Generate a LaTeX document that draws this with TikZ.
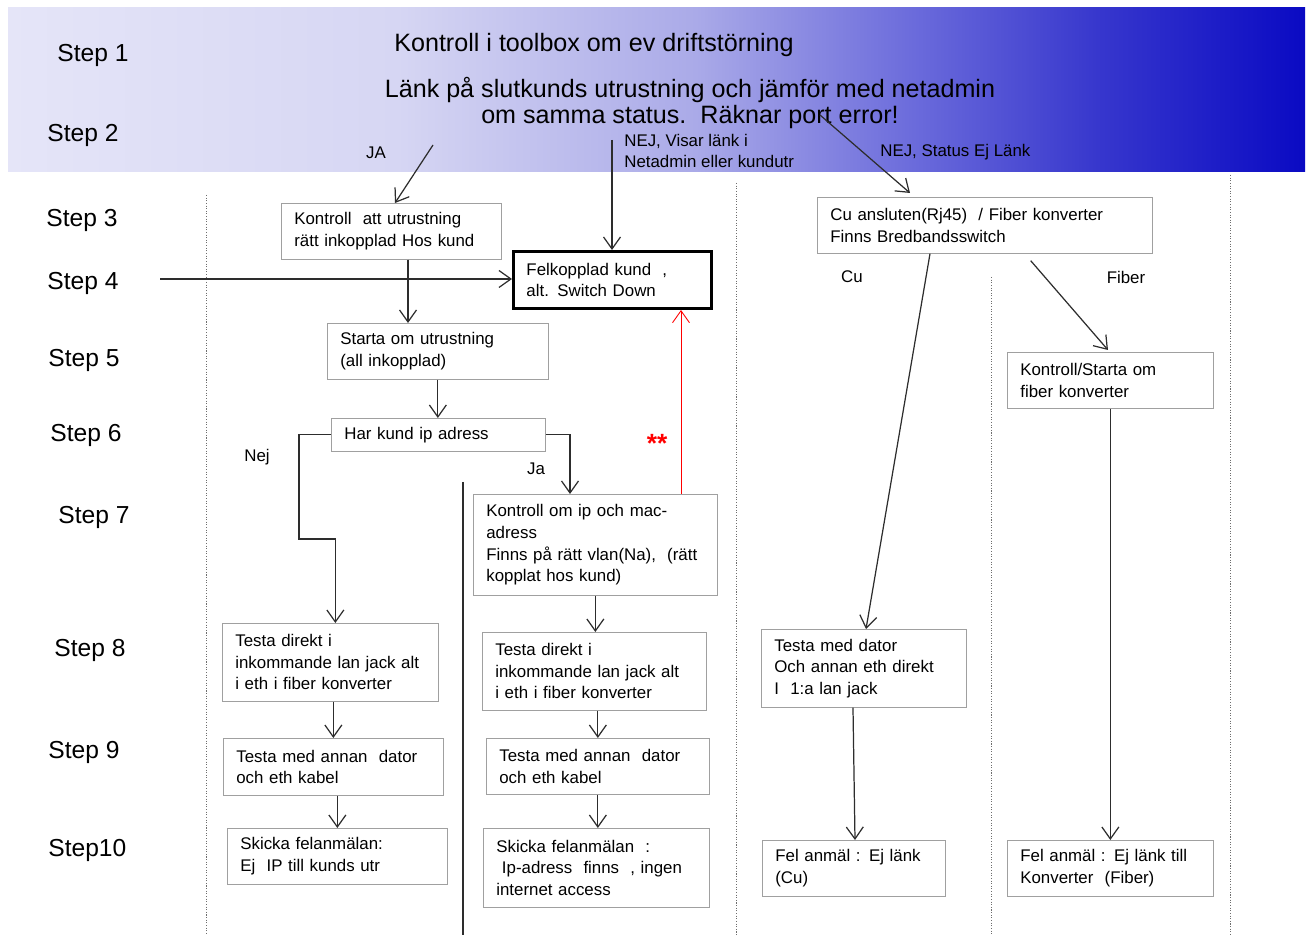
\documentclass[tikz,border=0pt]{standalone}
\usepackage{fontspec}
\setmainfont{Liberation Sans}
\usetikzlibrary{arrows.meta,calc}
\definecolor{boxgray}{RGB}{160,160,160}
\definecolor{linegray}{RGB}{45,45,45}
\definecolor{dotgray}{RGB}{110,110,110}
\definecolor{bannerA}{RGB}{229,229,248}
\definecolor{bannerB}{RGB}{214,214,243}
\definecolor{bannerC}{RGB}{170,170,232}
\definecolor{bannerD}{RGB}{110,110,220}
\definecolor{bannerE}{RGB}{55,55,205}
\definecolor{bannerF}{RGB}{10,10,195}
%% the path covers the band from 25bp to 75bp of the shading
\pgfdeclarehorizontalshading{banner}{100bp}{color(0bp)=(bannerA); color(25bp)=(bannerA); color(40bp)=(bannerB); color(51.5bp)=(bannerC); color(59.5bp)=(bannerD); color(67bp)=(bannerE); color(75bp)=(bannerF); color(100bp)=(bannerF)}
\newcommand{\boxfont}{\fontsize{9.6}{12.3}\selectfont\hyphenpenalty=10000\exhyphenpenalty=10000}
\newcommand{\stepfont}{\fontsize{14}{16}\selectfont}
\newcommand{\headfont}{\fontsize{14.3}{15.3}\selectfont}

\begin{document}
\begin{tikzpicture}[x=0.02cm,y=-0.02cm]
  %%Styles for the boxes, the labels and the arrows
  \tikzset{box/.style={draw=boxgray,thin,anchor=north west,inner xsep=0.26cm,inner ysep=0pt,align=left,font=\boxfont}}
  \tikzset{boxsize/.style 2 args={minimum width=#1*0.02cm,minimum height=#2*0.02cm,text width=#1*0.02cm-0.52cm}}
  \tikzset{label/.style={inner sep=0pt,align=left,font=\boxfont}}
  \tikzset{normal arrow/.style={draw,-{Straight Barb[length=2.4mm,width=3.4mm]},line width=0.7pt,color=linegray}}
  \tikzset{red arrow/.style={normal arrow,color=red,line width=0.5pt}}
  \tikzset{divider/.style={draw=dotgray,line width=0.4pt,dash pattern=on 0.6pt off 0.9pt}}
  \useasboundingbox (0,0) rectangle (1309,935);
  %%Banner at the top
  \fill[shading=banner] (8,8) rectangle (1305,172);
  %%Column dividers
  \draw[divider] (206,195) -- (206,935);
  \draw[divider] (736,183) -- (736,935);
  \draw[divider] (991,277) -- (991,935);
  \draw[divider] (1230,175) -- (1230,935);
  \draw[linegray,line width=0.6pt] (463,482) -- (463,935);
  %%Step labels down the left side
  \foreach \t/\x/\y [count=\i] in {Step 1/57/55,Step 2/47/135,Step 3/46/220,Step 4/47/283,Step 5/48/360,
      Step 6/50/435,Step 7/58/517,Step 8/54/650,Step 9/48/752,Step10/48/850}{
    \node[anchor=west,inner sep=0pt,font=\stepfont] (s\i) at (\x,\y) {\t};
  }
  %%Text in the banner
  \node[inner sep=0pt,font=\headfont] (toolbox) at (594,45) {Kontroll i toolbox om ev driftstörning};
  \node[inner sep=0pt,font=\headfont,align=center] (lank) at (690,103) {Länk på slutkunds utrustning och jämför med netadmin\\om samma status.\ \ Räknar port error!};
  %%Boxes of the left part
  \node[box,boxsize={220}{56}] (kontroll) at (281,203) {Kontroll\ \ att utrustning\\rätt inkopplad Hos kund};
  \node[box,boxsize={198}{57},draw=black,line width=1.7pt] (felkopplad) at (512,250) {Felkopplad kund\ \ ,\\alt. Switch Down};
  \node[box,boxsize={221}{56}] (starta) at (327,323) {Starta om utrustning\\(all inkopplad)};
  \node[box,boxsize={214}{33}] (harkund) at (331,418) {Har kund ip adress};
  \node[box,boxsize={244}{101}] (kontrollip) at (473,494) {Kontroll om ip och mac-\\adress\\Finns på rätt vlan(Na),\ \ (rätt\\kopplat hos kund)};
  \node[box,boxsize={216}{78}] (testaL) at (222,623) {Testa direkt i\\inkommande\ lan jack alt\\i eth i fiber\ konverter};
  \node[box,boxsize={220}{57}] (annanL) at (223,738) {Testa med annan\ \ dator\\och eth kabel};
  \node[box,boxsize={220}{56}] (skickaL) at (227,828) {Skicka felanmälan:\\Ej\ \ IP till kunds utr};
  \node[box,boxsize={224}{78}] (testaR) at (482,632) {Testa direkt i\\inkommande\ lan jack alt\\i eth i fiber\ konverter};
  \node[box,boxsize={223}{56}] (annanR) at (486,738) {Testa med annan\ \ dator\\och eth kabel};
  \node[box,boxsize={226}{79}] (skickaR) at (483,828) {Skicka felanmälan\ \ :\\\ Ip-adress\ \ finns\ \ , ingen\\internet access};
  %%Boxes of the right part
  \node[box,boxsize={335}{56}] (cu) at (817,197) {Cu ansluten(Rj45)\ \ / Fiber konverter\\Finns Bredbandsswitch};
  \node[box,boxsize={205}{78}] (testadator) at (761,629) {Testa med dator\\Och\ annan eth\ direkt\\I\ \ 1:a lan jack};
  \node[box,boxsize={183}{56}] (felcu) at (762,840) {Fel anmäl\ : Ej länk\\(Cu)};
  \node[box,boxsize={206}{56}] (kontrollfiber) at (1007,352) {Kontroll/Starta om\\fiber konverter};
  \node[box,boxsize={206}{56}] (felfiber) at (1007,840) {Fel anmäl : Ej länk till\\Konverter\ \ (Fiber)};
  %%Branch labels
  \node[label] (ja) at (376,153) {JA};
  \node[label,anchor=west] (nejlank) at (624,151) {NEJ, Visar länk i\\Netadmin eller kundutr};
  \node[label,anchor=west] (nejstatus) at (880,152) {NEJ, Status Ej Länk};
  \node[label] (lcu) at (852,277) {Cu};
  \node[label] (lfiber) at (1126,277) {Fiber};
  \node[label] (lnej) at (257,457) {Nej};
  \node[label] (lja) at (536,469) {Ja};
  \node[label,text=red,font=\fontsize{15}{15}\selectfont\bfseries] (stars) at (657,443) {**};
  %%Free ends of the arrows coming from the banner
  \path (433,145) coordinate (jastart) (612,140) coordinate (nejstart) (820,115) coordinate (statusstart) (160,279) coordinate (step4start);
  %%Drawing the arrows
  \path[normal arrow] (jastart) -- ($(kontroll.north west)+(114,0)$);
  \path[normal arrow] (nejstart) -- (nejstart |- felkopplad.north);
  \path[normal arrow] (statusstart) -- ($(cu.north west)+(93,-4)$);
  \path[normal arrow] (step4start) -- (step4start -| felkopplad.west);
  \path[normal arrow] ($(kontroll.south west)+(127,0)$) coordinate (k1) -- (k1 |- starta.north);
  \path[normal arrow] (starta.south) -- (starta.south |- harkund.north);
  \path[normal arrow] (harkund.west) -- ++(-32,0) |- ($(testaL.north)+(5,-84)$) -- ($(testaL.north)+(5,0)$);
  \path[normal arrow] (harkund.east) -| ($(kontrollip.north west)+(97,0)$);
  \path[red arrow] ($(kontrollip.north west)+(208,0)$) coordinate (r0) -- (r0 |- felkopplad.south);
  \path[normal arrow] (kontrollip.south) -- (kontrollip.south |- testaR.north);
  \path[normal arrow] (annanR.north |- testaR.south) -- (annanR.north);
  \path[normal arrow] (annanR.south) -- (annanR.south |- skickaR.north);
  \path[normal arrow] (annanL.north |- testaL.south) -- (annanL.north);
  \path[normal arrow] (skickaL.north |- annanL.south) -- (skickaL.north);
  \path[normal arrow] ($(cu.south west)+(113,0)$) -- ($(testadator.north west)+(105,0)$);
  \path[normal arrow] ($(testadator.south west)+(92,0)$) -- ($(felcu.north west)+(93,0)$);
  \path[normal arrow] ($(cu.south east)+(-122,7)$) -- ($(kontrollfiber.north west)+(101,-2)$);
  \path[normal arrow] (kontrollfiber.south) -- (felfiber.north);
\end{tikzpicture}
\end{document}
